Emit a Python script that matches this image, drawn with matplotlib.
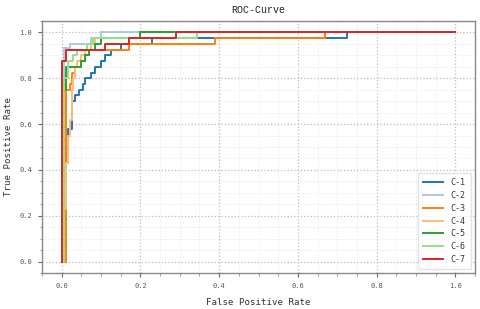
import matplotlib
matplotlib.use("Agg")
import matplotlib.pyplot as plt
from matplotlib.ticker import MultipleLocator

labels = ["C-1", "C-2", "C-3", "C-4", "C-5", "C-6", "C-7"]
colors = ["#1f77b4", "#aec7e8", "#ff7f0e", "#ffbb78", "#2ca02c", "#98df8a", "#d62728"]

fpr_c1 = [0, 0.005, 0.005, 0.01, 0.01, 0.015, 0.015, 0.025, 0.025, 0.035, 0.035, 0.045, 0.045, 0.055, 0.055,
          0.06, 0.06, 0.075, 0.075, 0.085, 0.085, 0.10, 0.10, 0.11, 0.11, 0.125, 0.125, 0.15, 0.15, 0.23, 0.23,
          0.725, 0.725, 1.0]
tpr_c1 = [0, 0, 0.23, 0.23, 0.50, 0.50, 0.58, 0.58, 0.70, 0.70, 0.725, 0.725, 0.75, 0.75, 0.775,
          0.775, 0.80, 0.80, 0.825, 0.825, 0.85, 0.85, 0.875, 0.875, 0.90, 0.90, 0.925, 0.925, 0.95, 0.95, 0.975,
          0.975, 1.0, 1.0]

fpr_c2 = [0, 0.005, 0.005, 0.022, 0.022, 0.075, 0.075, 0.10, 0.10, 1.0]
tpr_c2 = [0, 0, 0.93, 0.93, 0.95, 0.95, 0.975, 0.975, 1.0, 1.0]

fpr_c3 = [0, 0.01, 0.01, 0.02, 0.02, 0.025, 0.025, 0.035, 0.035, 0.05, 0.05, 0.06, 0.06, 0.07, 0.07,
          0.17, 0.17, 0.39, 0.39, 0.67, 0.67, 1.0]
tpr_c3 = [0, 0, 0.75, 0.75, 0.775, 0.775, 0.825, 0.825, 0.85, 0.85, 0.875, 0.875, 0.90, 0.90, 0.925,
          0.925, 0.95, 0.95, 0.975, 0.975, 1.0, 1.0]

fpr_c4 = [0, 0.005, 0.005, 0.01, 0.01, 0.015, 0.015, 0.02, 0.02, 0.025, 0.025, 0.03, 0.03, 0.035, 0.035,
          0.04, 0.04, 0.05, 0.05, 0.06, 0.06, 0.075, 0.075, 0.085, 0.085, 0.29, 0.29, 1.0]
tpr_c4 = [0, 0, 0.23, 0.23, 0.43, 0.43, 0.55, 0.55, 0.62, 0.62, 0.75, 0.75, 0.80, 0.80, 0.85,
          0.85, 0.875, 0.875, 0.90, 0.90, 0.925, 0.925, 0.95, 0.95, 0.975, 0.975, 1.0, 1.0]

fpr_c5 = [0, 0.005, 0.005, 0.01, 0.01, 0.05, 0.05, 0.06, 0.06, 0.07, 0.07, 0.085, 0.085, 0.10, 0.10,
          0.20, 0.20, 1.0]
tpr_c5 = [0, 0, 0.75, 0.75, 0.85, 0.85, 0.875, 0.875, 0.90, 0.90, 0.925, 0.925, 0.95, 0.95, 0.975,
          0.975, 1.0, 1.0]

fpr_c6 = [0, 0.005, 0.005, 0.015, 0.015, 0.03, 0.03, 0.04, 0.04, 0.065, 0.065, 0.08, 0.08, 0.345, 0.345, 1.0]
tpr_c6 = [0, 0, 0.80, 0.80, 0.875, 0.875, 0.90, 0.90, 0.925, 0.925, 0.95, 0.95, 0.975, 0.975, 1.0, 1.0]

fpr_c7 = [0, 0, 0.01, 0.01, 0.11, 0.11, 0.17, 0.17, 0.29, 0.29, 1.0]
tpr_c7 = [0, 0.875, 0.875, 0.925, 0.925, 0.95, 0.95, 0.975, 0.975, 1.0, 1.0]

fprs = [fpr_c1, fpr_c2, fpr_c3, fpr_c4, fpr_c5, fpr_c6, fpr_c7]
tprs = [tpr_c1, tpr_c2, tpr_c3, tpr_c4, tpr_c5, tpr_c6, tpr_c7]

mono = ["DejaVu Sans Mono"]
fig = plt.figure(figsize=(4.8, 3.09), dpi=100)
ax = fig.add_axes([42/480, 1 - 273/309, (475-42)/480, (273-21)/309])

for f, t, c, l in zip(fprs, tprs, colors, labels):
    ax.plot(f, t, color=c, lw=1.4, label=l)

ax.set_xlim(-0.05, 1.05)
ax.set_ylim(-0.05, 1.05)
ax.xaxis.set_major_locator(MultipleLocator(0.2))
ax.yaxis.set_major_locator(MultipleLocator(0.2))
ax.xaxis.set_minor_locator(MultipleLocator(0.05))
ax.yaxis.set_minor_locator(MultipleLocator(0.05))
ax.grid(which="major", linestyle=":", color="#bbbbbb", lw=0.9)
ax.grid(which="minor", linestyle=":", color="#e6e6e6", lw=0.7)
ax.set_axisbelow(True)
for s in ax.spines.values():
    s.set_color("#888888")
    s.set_linewidth(1.0)
ax.tick_params(which="major", length=3, width=0.8, color="#666666", labelsize=5,
               labelcolor="#555555", pad=4)
ax.tick_params(which="minor", length=1.8, width=0.6, color="#888888")
for lab in ax.get_xticklabels() + ax.get_yticklabels():
    lab.set_family(mono)

ax.set_xlabel("False Positive Rate", family=mono, fontsize=6.6, color="#333333", labelpad=7)
ax.set_ylabel("True Positive Rate", family=mono, fontsize=6.6, color="#333333", labelpad=5)
ax.set_title("ROC-Curve", family=["Liberation Mono"], fontsize=7.2, color="#222222", pad=6)

leg = ax.legend(loc="lower right", prop={"family": mono, "size": 6}, frameon=True,
                fancybox=False, edgecolor="#dddddd", handlelength=2.4, labelspacing=0.45,
                borderpad=0.6, handletextpad=1.0)
for txt in leg.get_texts():
    txt.set_color("#333333")

fig.savefig("out.png", dpi=100)
